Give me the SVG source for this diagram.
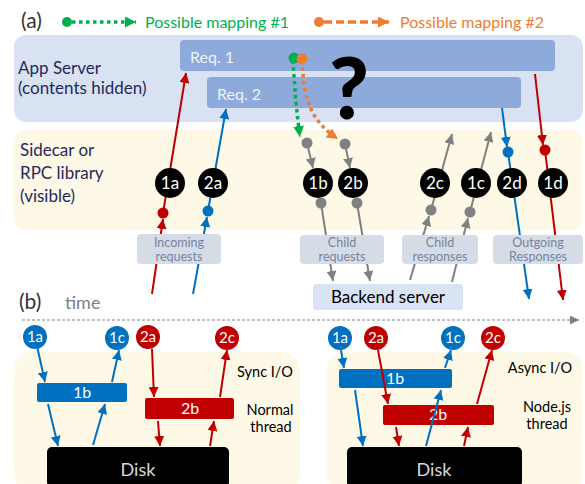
<svg xmlns="http://www.w3.org/2000/svg" width="585" height="484" viewBox="0 0 585 484">
  <style>
    text { font-family: Lato, "Open Sans", "Liberation Sans", sans-serif; }
    .navy { fill: #1f2a5c; font-size: 17px; }
    .lbl { fill: #7584a3; font-size: 12.5px; text-anchor: middle; }
    .lblbox { fill: #d6dce5; }
    .node { fill: #000; }
    .ntxt { fill: #fff; font-size: 17px; text-anchor: middle; }
    .stxt { fill: #fff; font-size: 15px; text-anchor: middle; }
    .btxt { fill: #fff; font-size: 16px; text-anchor: middle; }
    .red { stroke: #c00000; stroke-width: 2; fill: none; }
    .blue { stroke: #0070c0; stroke-width: 2; fill: none; }
    .grey { stroke: #808080; stroke-width: 2; fill: none; }
    .side { fill: #000; font-size: 14.5px; text-anchor: middle; }
  </style>
  <defs>
    <marker id="ah-red" viewBox="0 0 10 10" refX="10" refY="5" markerWidth="10" markerHeight="10" markerUnits="userSpaceOnUse" orient="auto"><path d="M0,0 L10,5 L0,10 z" fill="#c00000"/></marker>
    <marker id="ah-blue" viewBox="0 0 10 10" refX="10" refY="5" markerWidth="10" markerHeight="10" markerUnits="userSpaceOnUse" orient="auto"><path d="M0,0 L10,5 L0,10 z" fill="#0070c0"/></marker>
    <marker id="ah-grey" viewBox="0 0 10 10" refX="10" refY="5" markerWidth="10" markerHeight="10" markerUnits="userSpaceOnUse" orient="auto"><path d="M0,0 L10,5 L0,10 z" fill="#808080"/></marker>
    <marker id="ah-green" viewBox="0 0 10 10" refX="10" refY="5" markerWidth="11" markerHeight="11" markerUnits="userSpaceOnUse" orient="auto"><path d="M0,0 L10,5 L0,10 z" fill="#00b050"/></marker>
    <marker id="ah-orange" viewBox="0 0 10 10" refX="10" refY="5" markerWidth="11" markerHeight="11" markerUnits="userSpaceOnUse" orient="auto"><path d="M0,0 L10,5 L0,10 z" fill="#ed7d31"/></marker>
    <marker id="ah-time" viewBox="0 0 10 10" refX="10" refY="5" markerWidth="9" markerHeight="9" markerUnits="userSpaceOnUse" orient="auto"><path d="M0,0 L10,5 L0,10 z" fill="#808080"/></marker>
  </defs>

  <!-- part (a) header and legend -->
  <text x="21" y="28" font-size="21" fill="#333">(a)</text>
  <g id="legend-1">
    <circle cx="67" cy="22" r="5" fill="#00b050"/>
    <line x1="72" y1="22" x2="136" y2="22" stroke="#00b050" stroke-width="3.5" stroke-dasharray="3.5 3.5" marker-end="url(#ah-green)"/>
    <text x="145" y="28" font-size="16" fill="#00b050">Possible mapping #1</text>
  </g>
  <g id="legend-2">
    <circle cx="319" cy="22" r="5" fill="#ed7d31"/>
    <line x1="324" y1="22" x2="389" y2="22" stroke="#ed7d31" stroke-width="3.5" stroke-dasharray="8 4" marker-end="url(#ah-orange)"/>
    <text x="400" y="28" font-size="16" fill="#ed7d31">Possible mapping #2</text>
  </g>

  <!-- layers -->
  <g id="app-server">
    <rect x="14" y="35" width="569" height="87" rx="12" fill="#d9e2f3"/>
    <text class="navy" x="18" y="74">App Server</text>
    <text class="navy" x="18" y="94">(contents hidden)</text>
  </g>
  <g id="req-1">
    <rect x="180" y="40" width="375" height="31" rx="4" fill="#8eaadb"/>
    <text x="190" y="63" font-size="16" fill="#eef2fa">Req. 1</text>
  </g>
  <g id="req-2">
    <rect x="207" y="77" width="314" height="31" rx="4" fill="#8eaadb"/>
    <text x="217" y="100" font-size="16" fill="#eef2fa">Req. 2</text>
  </g>
  <text x="349" y="119" font-size="86" font-weight="900" text-anchor="middle" fill="#000">?</text>
  <g id="sidecar">
    <rect x="14" y="130" width="569" height="100" rx="12" fill="#fef8e6"/>
    <text class="navy" x="20" y="156">Sidecar or</text>
    <text class="navy" x="20" y="179">RPC library</text>
    <text class="navy" x="20" y="202">(visible)</text>
  </g>

  <!-- connectors of part (a) -->
  <g id="connectors-a">
    <line class="red" x1="152" y1="294" x2="163" y2="219" marker-end="url(#ah-red)"/>
    <line class="red" x1="163" y1="213" x2="186" y2="73" marker-end="url(#ah-red)"/>
    <circle cx="163" cy="213" r="5.5" fill="#c00000"/>
    <line class="blue" x1="193" y1="294" x2="207" y2="217" marker-end="url(#ah-blue)"/>
    <line class="blue" x1="208" y1="211" x2="226" y2="109" marker-end="url(#ah-blue)"/>
    <circle cx="208" cy="211" r="5.5" fill="#0070c0"/>

    <line class="grey" x1="307" y1="143" x2="313" y2="168" marker-end="url(#ah-grey)"/>
    <circle cx="307" cy="143" r="5.5" fill="#808080"/>
    <line class="grey" x1="321" y1="203" x2="333" y2="281" marker-end="url(#ah-grey)"/>
    <line class="grey" x1="345" y1="144" x2="350" y2="168" marker-end="url(#ah-grey)"/>
    <circle cx="345" cy="144" r="5.5" fill="#808080"/>
    <line class="grey" x1="357" y1="203" x2="370" y2="281" marker-end="url(#ah-grey)"/>

    <line class="grey" x1="410" y1="280" x2="429" y2="216" marker-end="url(#ah-grey)"/>
    <line class="grey" x1="431" y1="210" x2="452" y2="134" marker-end="url(#ah-grey)"/>
    <line class="grey" x1="452" y1="282" x2="468" y2="218" marker-end="url(#ah-grey)"/>
    <line class="grey" x1="470" y1="212" x2="491" y2="132" marker-end="url(#ah-grey)"/>

    <line class="blue" x1="502" y1="108" x2="507" y2="147" marker-end="url(#ah-blue)"/>
    <line class="blue" x1="508" y1="152" x2="529" y2="299" marker-end="url(#ah-blue)"/>
    <circle cx="508" cy="152" r="5.5" fill="#0070c0"/>
    <line class="red" x1="535" y1="74" x2="543" y2="145" marker-end="url(#ah-red)"/>
    <line class="red" x1="545" y1="150" x2="563" y2="300" marker-end="url(#ah-red)"/>
    <circle cx="545" cy="150" r="5.5" fill="#c00000"/>

    <path d="M293,60 C295,95 297,115 300,137" fill="none" stroke="#00b050" stroke-width="3.5" stroke-dasharray="3.5 3.5" marker-end="url(#ah-green)"/>
    <circle cx="294" cy="58" r="5.5" fill="#00b050"/>
    <path d="M302,60 C304,100 310,120 338,139" fill="none" stroke="#ed7d31" stroke-width="3.5" stroke-dasharray="3.5 3.5" marker-end="url(#ah-orange)"/>
    <circle cx="302" cy="59" r="5.5" fill="#ed7d31"/>
  </g>

  <!-- event nodes of part (a) -->
  <g id="n-1a"><circle class="node" cx="170" cy="183" r="15"/><text class="ntxt" x="170" y="189">1a</text></g>
  <g id="n-2a"><circle class="node" cx="213" cy="183" r="15"/><text class="ntxt" x="213" y="189">2a</text></g>
  <g id="n-1b"><circle class="node" cx="318" cy="183" r="15"/><text class="ntxt" x="318" y="189">1b</text></g>
  <g id="n-2b"><circle class="node" cx="353" cy="183" r="15"/><text class="ntxt" x="353" y="189">2b</text></g>
  <g id="n-2c"><circle class="node" cx="435" cy="183" r="15"/><text class="ntxt" x="435" y="189">2c</text></g>
  <g id="n-1c"><circle class="node" cx="476" cy="183" r="15"/><text class="ntxt" x="476" y="189">1c</text></g>
  <g id="n-2d"><circle class="node" cx="512" cy="183" r="15"/><text class="ntxt" x="512" y="189">2d</text></g>
  <g id="n-1d"><circle class="node" cx="553" cy="183" r="15"/><text class="ntxt" x="553" y="189">1d</text></g>

  <circle cx="321" cy="203" r="5.5" fill="#808080"/>
  <circle cx="357" cy="203" r="5.5" fill="#808080"/>
  <circle cx="431" cy="210" r="5.5" fill="#808080"/>
  <circle cx="470" cy="212" r="5.5" fill="#808080"/>

  <!-- flow labels -->
  <g id="lbl-incoming"><rect class="lblbox" x="137" y="234" width="84" height="30" rx="4"/><text class="lbl" x="179" y="247">Incoming</text><text class="lbl" x="179" y="261">requests</text></g>
  <g id="lbl-child-req"><rect class="lblbox" x="300" y="235" width="84" height="29" rx="4"/><text class="lbl" x="342" y="247">Child</text><text class="lbl" x="342" y="261">requests</text></g>
  <g id="lbl-child-resp"><rect class="lblbox" x="402" y="235" width="76" height="29" rx="4"/><text class="lbl" x="440" y="247">Child</text><text class="lbl" x="440" y="261">responses</text></g>
  <g id="lbl-outgoing"><rect class="lblbox" x="493" y="235" width="90" height="29" rx="4"/><text class="lbl" x="538" y="247">Outgoing</text><text class="lbl" x="538" y="261">Responses</text></g>

  <g id="backend">
    <rect x="313" y="284" width="150" height="26" rx="4" fill="#dae3f3"/>
    <text x="388" y="303" font-size="17" text-anchor="middle" fill="#000">Backend server</text>
  </g>

  <!-- part (b) -->
  <text x="19" y="309" font-size="21" fill="#333">(b)</text>
  <text x="65" y="309" font-size="18" fill="#7f7f7f">time</text>
  <line x1="22" y1="320" x2="579" y2="320" stroke="#808080" stroke-width="1.2" stroke-dasharray="3 2" marker-end="url(#ah-time)"/>

  <g id="sync-panel">
    <rect x="14" y="352" width="286" height="140" rx="18" fill="#fef8e6"/>
    <text class="side" x="265" y="377">Sync I/O</text>
    <text class="side" x="270" y="415">Normal</text>
    <text class="side" x="271" y="432">thread</text>
  </g>
  <g id="async-panel">
    <rect x="327" y="352" width="256" height="140" rx="18" fill="#fef8e6"/>
    <text class="side" x="540" y="373">Async I/O</text>
    <text class="side" x="547" y="412">Node.js</text>
    <text class="side" x="547" y="429">thread</text>
  </g>

  <g id="s-1b"><rect x="37" y="383" width="90" height="19" rx="2" fill="#0070c0"/><text class="btxt" x="82" y="398">1b</text></g>
  <g id="s-2b"><rect x="145" y="398" width="89" height="21" rx="2" fill="#c00000"/><text class="btxt" x="190" y="414">2b</text></g>
  <g id="s-disk"><rect x="47" y="447" width="182" height="40" rx="5" fill="#000"/><text x="138" y="476" font-size="18" text-anchor="middle" fill="#d9d9d9">Disk</text></g>

  <g id="a-1b"><rect x="339" y="369" width="113" height="19" rx="2" fill="#0070c0"/><text class="btxt" x="395" y="384">1b</text></g>
  <g id="a-2b"><rect x="383" y="405" width="111" height="20" rx="2" fill="#c00000"/><text class="btxt" x="438" y="420">2b</text></g>
  <g id="a-disk"><rect x="347" y="447" width="175" height="40" rx="5" fill="#000"/><text x="434" y="476" font-size="18" text-anchor="middle" fill="#d9d9d9">Disk</text></g>

  <!-- connectors of part (b) -->
  <g id="connectors-b">
    <line class="blue" x1="37" y1="346" x2="45" y2="382" marker-end="url(#ah-blue)"/>
    <line class="blue" x1="112" y1="382" x2="119" y2="350" marker-end="url(#ah-blue)"/>
    <line class="blue" x1="48" y1="404" x2="58" y2="446" marker-end="url(#ah-blue)"/>
    <line class="blue" x1="93" y1="445" x2="105" y2="404" marker-end="url(#ah-blue)"/>
    <line class="red" x1="152" y1="349" x2="154" y2="397" marker-end="url(#ah-red)"/>
    <line class="red" x1="220" y1="397" x2="227" y2="350" marker-end="url(#ah-red)"/>
    <line class="red" x1="158" y1="421" x2="160" y2="446" marker-end="url(#ah-red)"/>
    <line class="red" x1="210" y1="446" x2="214" y2="421" marker-end="url(#ah-red)"/>

    <line class="blue" x1="341" y1="350" x2="344" y2="368" marker-end="url(#ah-blue)"/>
    <line class="blue" x1="445" y1="368" x2="451" y2="350" marker-end="url(#ah-blue)"/>
    <line class="red" x1="378" y1="350" x2="388" y2="404" marker-end="url(#ah-red)"/>
    <line class="red" x1="477" y1="404" x2="492" y2="350" marker-end="url(#ah-red)"/>
    <line class="blue" x1="355" y1="390" x2="363" y2="446" marker-end="url(#ah-blue)"/>
    <line class="red" x1="396" y1="427" x2="399" y2="446" marker-end="url(#ah-red)"/>
    <line class="blue" x1="426" y1="446" x2="441" y2="390" marker-end="url(#ah-blue)"/>
    <line class="red" x1="464" y1="446" x2="468" y2="427" marker-end="url(#ah-red)"/>
  </g>

  <!-- event nodes of part (b) -->
  <g id="s-1a"><circle cx="35" cy="337" r="12" fill="#0070c0"/><text class="stxt" x="35" y="342">1a</text></g>
  <g id="s-1c"><circle cx="117" cy="338" r="12" fill="#0070c0"/><text class="stxt" x="117" y="343">1c</text></g>
  <g id="s-2a"><circle cx="148" cy="337" r="12" fill="#c00000"/><text class="stxt" x="148" y="342">2a</text></g>
  <g id="s-2c"><circle cx="227" cy="338" r="12" fill="#c00000"/><text class="stxt" x="227" y="343">2c</text></g>
  <g id="a-1a"><circle cx="340" cy="338" r="12" fill="#0070c0"/><text class="stxt" x="340" y="343">1a</text></g>
  <g id="a-2a"><circle cx="376" cy="338" r="12" fill="#c00000"/><text class="stxt" x="376" y="343">2a</text></g>
  <g id="a-1c"><circle cx="453" cy="338" r="12" fill="#0070c0"/><text class="stxt" x="453" y="343">1c</text></g>
  <g id="a-2c"><circle cx="493" cy="338" r="12" fill="#c00000"/><text class="stxt" x="493" y="343">2c</text></g>
</svg>
